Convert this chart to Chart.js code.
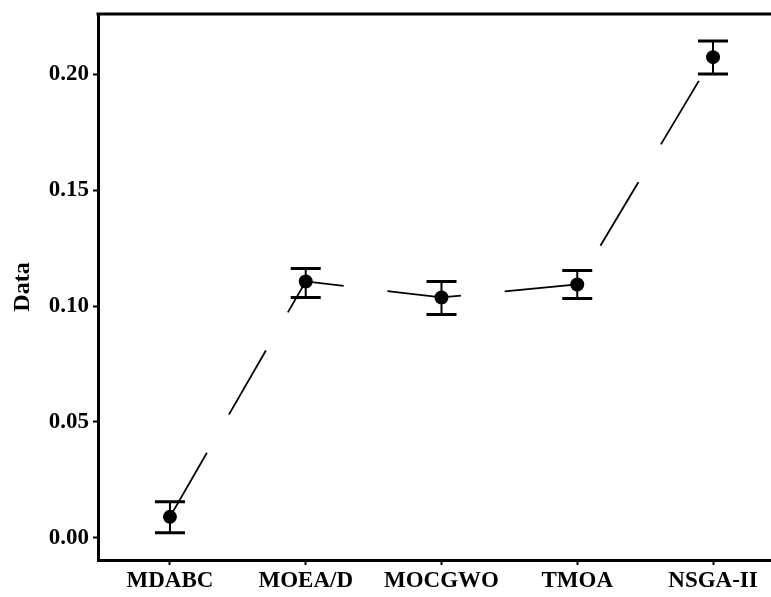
<!DOCTYPE html>
<html>
<head>
<meta charset="utf-8">
<script src="https://cdn.jsdelivr.net/npm/chart.js@4.4.0/dist/chart.umd.min.js"></script>
<style>
  html, body { margin: 0; padding: 0; background: #fff; overflow: hidden; }
  #wrap { width: 771px; height: 597px; }
</style>
</head>
<body>
<div id="wrap"><canvas id="chart" width="771" height="597"></canvas></div>
<script>
// data
const categories = ['MDABC', 'MOEA/D', 'MOCGWO', 'TMOA', 'NSGA-II'];
const means = [0.0091, 0.1106, 0.1037, 0.1093, 0.2073];
const upper = [0.0156, 0.1162, 0.1106, 0.1153, 0.2143];
const lower = [0.0022, 0.1037, 0.0963, 0.1032, 0.2000];
const yTicks = [0.00, 0.05, 0.10, 0.15, 0.20];

const font = 'Liberation Serif';

// error bars + top frame line
const errorBars = {
  id: 'errorBars',
  beforeDatasetsDraw(chart) {
    const { ctx, scales: { x, y } } = chart;
    ctx.save();
    ctx.strokeStyle = '#000';
    ctx.lineCap = 'butt';
    means.forEach((m, i) => {
      const px = x.getPixelForValue(i);
      const top = y.getPixelForValue(upper[i]);
      const bot = y.getPixelForValue(lower[i]);
      ctx.lineWidth = 2;
      ctx.beginPath();
      ctx.moveTo(px, top);
      ctx.lineTo(px, bot);
      ctx.stroke();
      ctx.lineWidth = 3;
      ctx.beginPath();
      ctx.moveTo(px - 15, top);
      ctx.lineTo(px + 15, top);
      ctx.moveTo(px - 15, bot);
      ctx.lineTo(px + 15, bot);
      ctx.stroke();
    });
    ctx.restore();
  },
  afterDraw(chart) {
    const { ctx, chartArea } = chart;
    ctx.save();
    ctx.strokeStyle = '#000';
    ctx.lineWidth = 3;
    ctx.beginPath();
    ctx.moveTo(chartArea.left - 1.5, chartArea.top);
    ctx.lineTo(chartArea.right, chartArea.top);
    ctx.stroke();
    ctx.restore();
  }
};

new Chart(document.getElementById('chart'), {
  type: 'line',
  data: {
    datasets: [{
      data: means.map((v, i) => ({ x: i, y: v })),
      borderColor: '#000',
      borderWidth: 1.8,
      borderDash: [74, 44],
      pointRadius: 7,
      pointBackgroundColor: '#000',
      pointBorderColor: '#000',
      pointBorderWidth: 0,
      tension: 0,
      fill: false
    }]
  },
  options: {
    responsive: false,
    animation: false,
    layout: { autoPadding: false, padding: { left: 0, right: 0, top: 14, bottom: 0 } },
    plugins: { legend: { display: false }, tooltip: { enabled: false } },
    scales: {
      x: {
        type: 'linear',
        min: -0.53,
        max: 4.427,
        afterBuildTicks: axis => { axis.ticks = categories.map((c, i) => ({ value: i })); },
        afterFit: scale => {
          scale.height = 37;
          scale.paddingLeft = 0;
          scale.paddingRight = 0;
        },
        ticks: {
          callback: v => categories[v],
          color: '#000',
          font: { family: font, size: 23, weight: 'bold' },
          padding: 2,
          maxRotation: 0,
          autoSkip: false
        },
        grid: { display: true, drawOnChartArea: false, tickLength: 5, tickColor: '#000', tickWidth: 2 },
        border: { display: true, color: '#000', width: 3 }
      },
      y: {
        min: -0.0095,
        max: 0.2259,
        afterBuildTicks: axis => { axis.ticks = yTicks.map(v => ({ value: v })); },
        afterFit: scale => {
          scale.width = 98;
          scale.paddingTop = 0;
          scale.paddingBottom = 0;
        },
        ticks: {
          callback: v => v.toFixed(2),
          color: '#000',
          font: { family: font, size: 23, weight: 'bold' },
          padding: 4
        },
        title: {
          display: true,
          text: 'Data',
          color: '#000',
          font: { family: font, size: 24, weight: 'bold' },
          padding: { top: 8, bottom: 0 }
        },
        grid: { display: true, drawOnChartArea: false, tickLength: 5, tickColor: '#000', tickWidth: 2 },
        border: { display: true, color: '#000', width: 3 }
      }
    }
  },
  plugins: [errorBars]
});
</script>
</body>
</html>
